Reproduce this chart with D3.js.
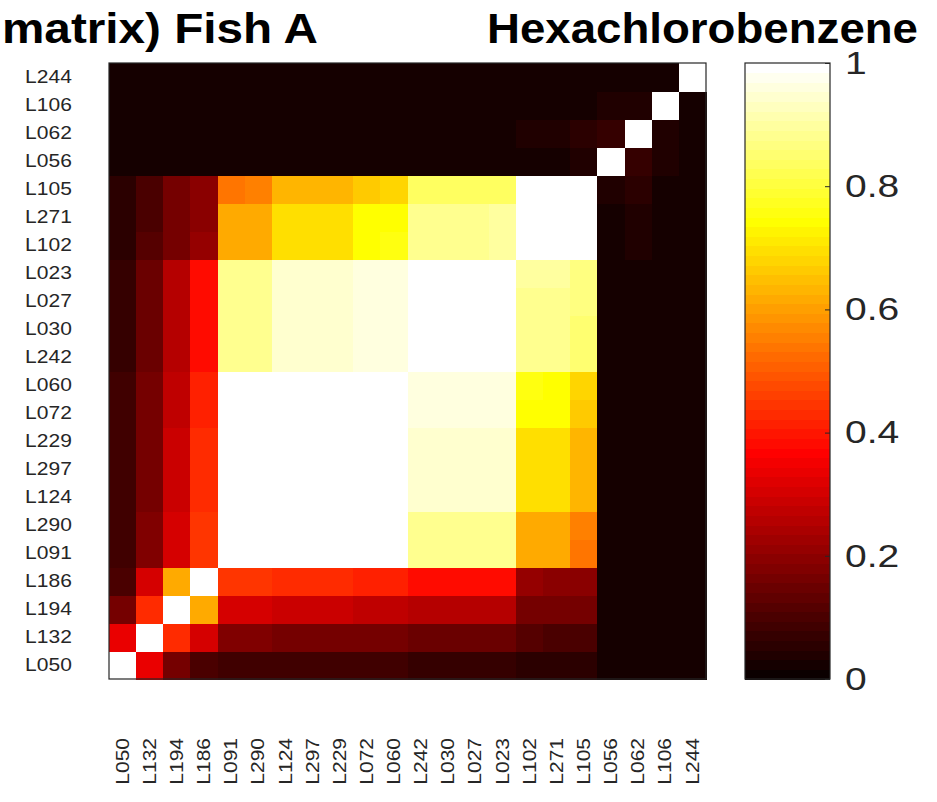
<!DOCTYPE html>
<html>
<head>
<meta charset="utf-8">
<script src="https://cdn.jsdelivr.net/npm/d3@7"></script>
<style>
  html, body { margin: 0; padding: 0; background: #ffffff; }
  svg { display: block; }
  text { font-family: "Liberation Sans", Arial, Helvetica, sans-serif; }
</style>
</head>
<body>
<svg id="chart" width="937" height="802"></svg>
<script>
// ---- data ----
const titleLeft = "matrix) Fish A";
const titleRight = "Hexachlorobenzene";

// variable order (index 0 = bottom row / left column)
const labels = ["L050","L132","L194","L186","L091","L290","L124","L297","L229","L072","L060",
                "L242","L030","L027","L023","L102","L271","L105","L056","L062","L106","L244"];

// correlation matrix, one array per variable (same order as labels)
const rowL050 = [1.00,0.33,0.16,0.10,0.09,0.09,0.08,0.08,0.08,0.08,0.08,0.07,0.07,0.07,0.07,0.06,0.06,0.06,0.03,0.03,0.02,0.02];
const rowL132 = [0.33,1.00,0.43,0.30,0.18,0.18,0.17,0.17,0.17,0.17,0.17,0.15,0.15,0.15,0.15,0.11,0.10,0.10,0.03,0.03,0.02,0.02];
const rowL194 = [0.16,0.43,1.00,0.61,0.30,0.30,0.29,0.29,0.29,0.28,0.28,0.26,0.26,0.26,0.26,0.17,0.16,0.16,0.03,0.03,0.02,0.02];
const rowL186 = [0.10,0.30,0.61,1.00,0.44,0.44,0.43,0.43,0.43,0.42,0.42,0.38,0.38,0.38,0.38,0.21,0.20,0.20,0.03,0.03,0.02,0.02];
const rowL091 = [0.09,0.18,0.30,0.44,1.00,0.99,0.99,0.99,0.99,0.99,0.99,0.88,0.88,0.88,0.88,0.61,0.61,0.54,0.03,0.03,0.02,0.02];
const rowL290 = [0.09,0.18,0.30,0.44,0.99,1.00,0.99,0.99,0.99,0.99,0.99,0.88,0.88,0.88,0.88,0.62,0.62,0.56,0.03,0.03,0.02,0.02];
const rowL124 = [0.08,0.17,0.29,0.43,0.99,0.99,1.00,0.99,0.99,0.99,0.99,0.94,0.94,0.94,0.94,0.69,0.69,0.63,0.03,0.03,0.02,0.02];
const rowL297 = [0.08,0.17,0.29,0.43,0.99,0.99,0.99,1.00,0.99,0.99,0.99,0.94,0.94,0.94,0.94,0.70,0.69,0.64,0.03,0.03,0.02,0.02];
const rowL229 = [0.08,0.17,0.29,0.43,0.99,0.99,0.99,0.99,1.00,0.99,0.99,0.94,0.94,0.94,0.94,0.70,0.70,0.64,0.03,0.03,0.02,0.02];
const rowL072 = [0.08,0.17,0.28,0.42,0.99,0.99,0.99,0.99,0.99,1.00,0.99,0.96,0.96,0.96,0.96,0.74,0.74,0.67,0.03,0.03,0.02,0.02];
const rowL060 = [0.08,0.17,0.28,0.42,0.99,0.99,0.99,0.99,0.99,0.99,1.00,0.96,0.96,0.96,0.96,0.75,0.74,0.68,0.03,0.03,0.02,0.02];
const rowL242 = [0.07,0.15,0.26,0.38,0.88,0.88,0.94,0.94,0.94,0.96,0.96,1.00,0.99,0.99,0.99,0.89,0.89,0.85,0.03,0.03,0.02,0.02];
const rowL030 = [0.07,0.15,0.26,0.38,0.88,0.88,0.94,0.94,0.94,0.96,0.96,0.99,1.00,0.99,0.99,0.89,0.89,0.85,0.03,0.03,0.02,0.02];
const rowL027 = [0.07,0.15,0.26,0.38,0.88,0.88,0.94,0.94,0.94,0.96,0.96,0.99,0.99,1.00,0.99,0.89,0.89,0.86,0.03,0.03,0.02,0.02];
const rowL023 = [0.07,0.15,0.26,0.38,0.88,0.88,0.94,0.94,0.94,0.96,0.96,0.99,0.99,0.99,1.00,0.90,0.90,0.86,0.03,0.03,0.02,0.02];
const rowL102 = [0.06,0.11,0.17,0.21,0.61,0.62,0.69,0.70,0.70,0.74,0.75,0.89,0.89,0.89,0.90,1.00,0.99,0.99,0.03,0.04,0.02,0.02];
const rowL271 = [0.06,0.10,0.16,0.20,0.61,0.62,0.69,0.69,0.70,0.74,0.74,0.89,0.89,0.89,0.90,0.99,1.00,0.99,0.03,0.04,0.02,0.02];
const rowL105 = [0.06,0.10,0.16,0.20,0.54,0.56,0.63,0.64,0.64,0.67,0.68,0.83,0.83,0.84,0.84,0.99,0.99,1.00,0.04,0.05,0.02,0.02];
const rowL056 = [0.03,0.03,0.03,0.03,0.03,0.03,0.03,0.03,0.03,0.03,0.03,0.03,0.03,0.03,0.03,0.03,0.03,0.04,1.00,0.07,0.04,0.02];
const rowL062 = [0.03,0.03,0.03,0.03,0.03,0.03,0.03,0.03,0.03,0.03,0.03,0.03,0.03,0.03,0.03,0.04,0.04,0.05,0.07,1.00,0.04,0.02];
const rowL106 = [0.02,0.02,0.02,0.02,0.02,0.02,0.02,0.02,0.02,0.02,0.02,0.02,0.02,0.02,0.02,0.02,0.02,0.02,0.04,0.04,1.00,0.03];
const rowL244 = [0.02,0.02,0.02,0.02,0.02,0.02,0.02,0.02,0.02,0.02,0.02,0.02,0.02,0.02,0.02,0.02,0.02,0.02,0.02,0.02,0.03,1.00];

const matrixRows = [rowL050,rowL132,rowL194,rowL186,rowL091,rowL290,rowL124,rowL297,rowL229,rowL072,rowL060,
                    rowL242,rowL030,rowL027,rowL023,rowL102,rowL271,rowL105,rowL056,rowL062,rowL106,rowL244];

const colorbarTicks = [0, 0.2, 0.4, 0.6, 0.8, 1];

// ---- MATLAB "hot" colormap, 64 levels ----
const NLEV = 64;
function hotColor(v) {
  const k = Math.max(1, Math.min(NLEV, Math.floor(v * NLEV) + 1));
  const n = 24;
  const r = k <= n ? k / n : 1;
  const g = k <= n ? 0 : (k <= 2 * n ? (k - n) / n : 1);
  const b = k <= 2 * n ? 0 : (k - 2 * n) / (NLEV - 2 * n);
  return d3.rgb(r * 255, g * 255, b * 255).toString();
}

// ---- layout ----
const svg = d3.select("#chart");
const M = { left: 109, right: 706, top: 63, bottom: 679 };
const CB = { left: 745, right: 830 };
const SX = 1.2; // horizontal text stretch

const x = d3.scaleBand().domain(labels).range([M.left, M.right]).padding(0);
const y = d3.scaleBand().domain(labels).range([M.bottom, M.top]).padding(0);

// cells
const cells = [];
matrixRows.forEach((row, i) => row.forEach((v, j) => cells.push({ r: labels[i], c: labels[j], v })));
svg.append("g").selectAll("rect").data(cells).join("rect")
  .attr("x", d => x(d.c))
  .attr("y", d => y(d.r))
  .attr("width", x.bandwidth() + 0.5)
  .attr("height", y.bandwidth() + 0.5)
  .attr("fill", d => hotColor(d.v))
  .attr("shape-rendering", "crispEdges");

// frame
svg.append("rect")
  .attr("x", M.left).attr("y", M.top)
  .attr("width", M.right - M.left).attr("height", M.bottom - M.top)
  .attr("fill", "none").attr("stroke", "#262626").attr("stroke-width", 1.2);

// left axis
const gy = svg.append("g").attr("transform", `translate(${M.left},0)`)
  .call(d3.axisLeft(y).tickSize(0).tickPadding(31));
gy.select(".domain").remove();
gy.selectAll("text")
  .attr("font-size", 17.5)
  .attr("fill", "#262626")
  .attr("transform", `scale(${SX},1)`);

// bottom axis
const gx = svg.append("g").attr("transform", `translate(0,${M.bottom})`)
  .call(d3.axisBottom(x).tickSize(0));
gx.select(".domain").remove();
gx.selectAll("text")
  .attr("font-size", 17.5)
  .attr("fill", "#262626")
  .attr("text-anchor", "end")
  .attr("x", -59 / SX)
  .attr("y", 0)
  .attr("dy", "0.35em")
  .attr("transform", `rotate(-90) scale(${SX},1)`);

// colorbar
const cy = d3.scaleLinear().domain([0, 1]).range([M.bottom, M.top]);
const levels = d3.range(NLEV);
svg.append("g").selectAll("rect").data(levels).join("rect")
  .attr("x", CB.left)
  .attr("width", CB.right - CB.left)
  .attr("y", k => cy((k + 1) / NLEV))
  .attr("height", k => cy(k / NLEV) - cy((k + 1) / NLEV) + 0.5)
  .attr("fill", k => hotColor((k + 0.5) / NLEV))
  .attr("shape-rendering", "crispEdges");
svg.append("rect")
  .attr("x", CB.left).attr("y", M.top)
  .attr("width", CB.right - CB.left).attr("height", M.bottom - M.top)
  .attr("fill", "none").attr("stroke", "#262626").attr("stroke-width", 1.2);

const CBS = 1.22;
const gc = svg.append("g").attr("transform", `translate(${CB.right},0)`)
  .call(d3.axisRight(cy).tickValues(colorbarTicks).tickSize(-5).tickPadding(15 / CBS)
        .tickFormat(d => String(+d.toFixed(1))));
gc.select(".domain").remove();
gc.selectAll(".tick line").attr("stroke", "#262626");
gc.selectAll("text")
  .attr("font-size", 32)
  .attr("fill", "#262626")
  .attr("transform", `scale(${CBS},1)`);

// titles
svg.append("text")
  .attr("x", 2).attr("y", 43)
  .attr("font-size", 42).attr("font-weight", "bold").attr("fill", "#000")
  .attr("textLength", 316).attr("lengthAdjust", "spacingAndGlyphs")
  .text(titleLeft);
svg.append("text")
  .attr("x", 487).attr("y", 43)
  .attr("font-size", 42).attr("font-weight", "bold").attr("fill", "#000")
  .attr("textLength", 431).attr("lengthAdjust", "spacingAndGlyphs")
  .text(titleRight);
</script>
</body>
</html>
